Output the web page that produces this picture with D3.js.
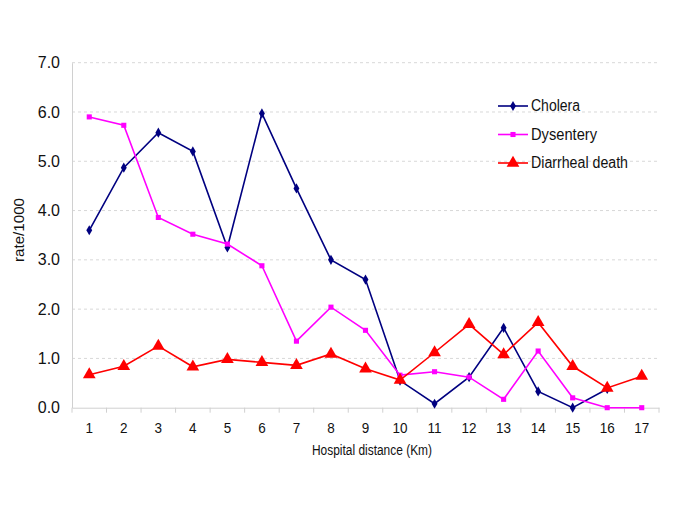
<!DOCTYPE html>
<html><head><meta charset="utf-8">
<script src="https://cdn.jsdelivr.net/npm/d3@7"></script>
<style>body{margin:0;background:#fff}</style>
</head><body>
<svg id="c" width="685" height="529"></svg>
<script>
const categories = ["1","2","3","4","5","6","7","8","9","10","11","12","13","14","15","16","17"];
const cholera = [3.60,4.87,5.58,5.20,3.25,5.97,4.45,3.00,2.60,0.55,0.08,0.62,1.62,0.33,0.00,0.38,null];
const dysentery = [5.90,5.73,3.86,3.52,3.32,2.88,1.35,2.04,1.57,0.66,0.73,0.62,0.17,1.15,0.20,0.00,0.00];
const diarrhealDeath = [0.67,0.84,1.25,0.83,0.98,0.92,0.86,1.09,0.79,0.56,1.12,1.69,1.08,1.73,0.84,0.40,0.64];
const yTicks = [0,1,2,3,4,5,6,7];
const seriesNames = ["Cholera","Dysentery","Diarrheal death"];

const svg = d3.select("#c");
const L = 72, R = 659, T = 62.7, B = 407.7;
const x = d3.scaleBand().domain(categories).range([L, R]);
const y = d3.scaleLinear().domain([0, 7]).range([B, T]);
const font = "Liberation Sans, Arial, sans-serif";

// gridlines
svg.append("g").selectAll("line").data(yTicks.filter(d => d > 0)).join("line")
  .attr("x1", L).attr("x2", R).attr("y1", d => y(d)).attr("y2", d => y(d))
  .attr("stroke", "#d8d8d8").attr("stroke-dasharray", "3,3").attr("stroke-width", 1);

// y axis
const ya = svg.append("g").attr("transform", `translate(${L},0)`)
  .call(d3.axisLeft(y).tickValues(yTicks).tickFormat(d3.format(".1f")).tickSize(0).tickPadding(12));
ya.select(".domain").attr("stroke", "#d0d0d0");
ya.selectAll("text").attr("font-family", font).attr("font-size", 16).attr("fill", "#111");

// x axis
const xa = svg.append("g").attr("transform", `translate(0,${B})`)
  .call(d3.axisBottom(x).tickSize(0).tickPadding(15));
xa.select(".domain").attr("stroke", "#d0d0d0");
xa.selectAll("text").attr("font-family", font).attr("font-size", 15).attr("fill", "#111")
  .attr("transform", "scale(0.9,1)");
// tick marks between categories
const bounds = categories.map((c, i) => x(c) + x.bandwidth()).concat([L]);
svg.append("g").selectAll("line").data(bounds).join("line")
  .attr("x1", d => d).attr("x2", d => d).attr("y1", B).attr("y2", B + 5)
  .attr("stroke", "#d0d0d0");

// axis titles
svg.append("text").attr("x", 372).attr("y", 455).attr("text-anchor", "middle")
  .attr("font-family", font).attr("font-size", 14).attr("fill", "#111")
  .attr("textLength", 120).attr("lengthAdjust", "spacingAndGlyphs").text("Hospital distance (Km)");
svg.append("text").attr("transform", "translate(24,230) rotate(-90)").attr("text-anchor", "middle")
  .attr("font-family", font).attr("font-size", 14).attr("fill", "#111")
  .attr("textLength", 64).attr("lengthAdjust", "spacingAndGlyphs").text("rate/1000");

const cx = c => x(c) + x.bandwidth() / 2;
const series = [
  {name: seriesNames[0], data: cholera, color: "#000080", sym: d3.symbolDiamond, size: 30, w: 49},
  {name: seriesNames[1], data: dysentery, color: "#FF00FF", sym: d3.symbolSquare, size: 26, w: 66},
  {name: seriesNames[2], data: diarrhealDeath, color: "#FF0000", sym: d3.symbolTriangle, size: 70, w: 97}
];
series.forEach(s => {
  const pts = categories.map((c, i) => ({c, v: s.data[i]})).filter(p => p.v !== null);
  svg.append("path").datum(pts)
    .attr("d", d3.line().x(p => cx(p.c)).y(p => y(p.v)))
    .attr("fill", "none").attr("stroke", s.color).attr("stroke-width", 1.6);
  svg.append("g").selectAll("path").data(pts).join("path")
    .attr("transform", p => `translate(${cx(p.c)},${y(p.v)})`)
    .attr("d", d3.symbol().type(s.sym).size(s.size)).attr("fill", s.color);
});

// legend
const legY = [106, 134.5, 163];
series.forEach((s, i) => {
  const g = svg.append("g").attr("transform", `translate(498,${legY[i]})`);
  g.append("line").attr("x1", 0).attr("x2", 30).attr("stroke", s.color).attr("stroke-width", 1.6);
  g.append("path").attr("transform", "translate(15,0)").attr("d", d3.symbol().type(s.sym).size(s.size)).attr("fill", s.color);
  g.append("text").attr("x", 33).attr("y", 5).attr("font-family", font).attr("font-size", 16)
    .attr("fill", "#111").attr("textLength", s.w).attr("lengthAdjust", "spacingAndGlyphs").text(s.name);
});
</script>
</body></html>
